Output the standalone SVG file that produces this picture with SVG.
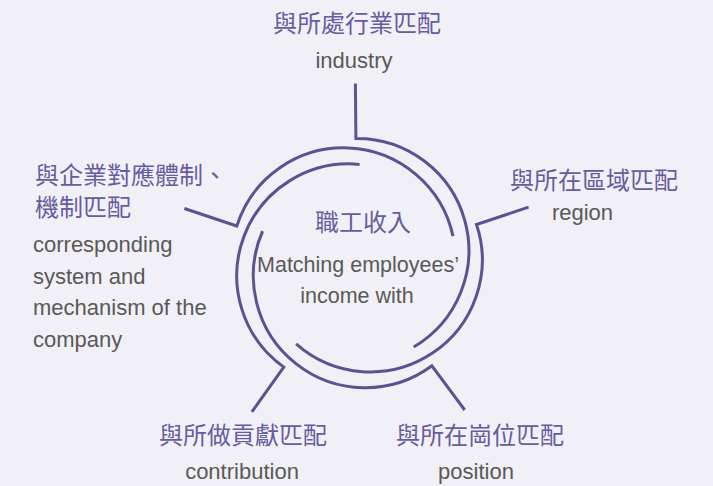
<svg xmlns="http://www.w3.org/2000/svg" width="713" height="486" viewBox="0 0 713 486">
<style>
.c{fill:none;stroke:#5b5294;stroke-width:3;stroke-linejoin:miter}
.zh{font-family:"Noto Sans CJK TC","Noto Sans CJK SC",sans-serif;font-size:24px;fill:#665c9f}
.en{font-family:"Liberation Sans",Arial,sans-serif;font-size:22px;fill:#595959}
.ec{font-size:21.5px}
.m{text-anchor:middle}
</style>
<rect width="713" height="486" fill="#f2f0f7"/>
<g id="connectors">
<path class="c" d="M355.4,83.5 L355.9,138.5 A112,112 0 0 1 413.7,347"/>
<path class="c" d="M528.6,207.1 L476.5,224.5 A112,112 0 0 1 296.1,343.9"/>
<path class="c" d="M464.7,410 L431.9,365.8 A112,112 0 0 1 262.6,231.1"/>
<path class="c" d="M251.9,411.9 L283.8,367.1 A112,112 0 0 1 359.6,164.4"/>
<path class="c" d="M184.4,208.5 L236.8,226 A112,112 0 0 1 453,236.1"/>
</g>
<g id="center">
<text class="zh m" x="363" y="231">職工收入</text>
<text class="en ec m" x="358" y="272">Matching employees’</text>
<text class="en ec m" x="357" y="303">income with</text>
</g>
<g id="industry">
<text class="zh m" x="357" y="32">與所處行業匹配</text>
<text class="en m" x="354" y="68">industry</text>
</g>
<g id="region">
<text class="zh m" x="594" y="189">與所在區域匹配</text>
<text class="en m" x="582.5" y="220">region</text>
</g>
<g id="position">
<text class="zh m" x="480" y="444">與所在崗位匹配</text>
<text class="en m" x="476" y="479">position</text>
</g>
<g id="contribution">
<text class="zh m" x="243" y="444">與所做貢獻匹配</text>
<text class="en m" x="242" y="479">contribution</text>
</g>
<g id="system">
<text class="zh" x="35" y="184">與企業對應體制、</text>
<text class="zh" x="35" y="216">機制匹配</text>
<text class="en" x="33" y="251.5">corresponding</text>
<text class="en" x="33" y="283.5">system and</text>
<text class="en" x="33" y="315">mechanism of the</text>
<text class="en" x="33" y="347">company</text>
</g>
</svg>
